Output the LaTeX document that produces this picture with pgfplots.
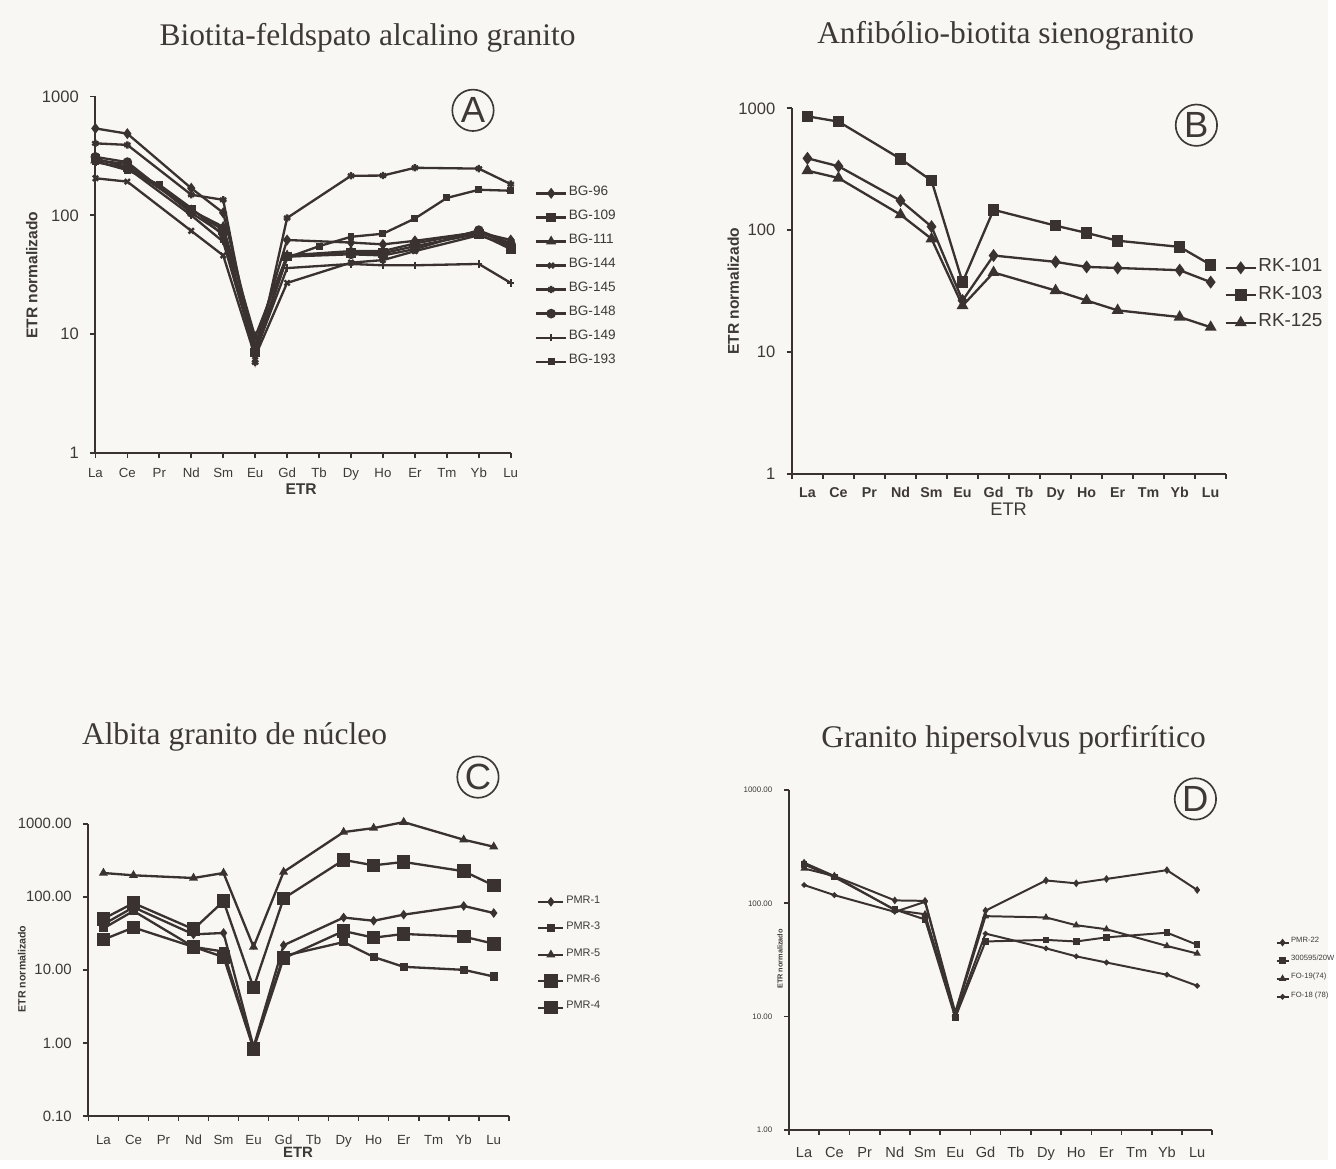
\documentclass[border=0pt]{standalone}
\usepackage{fontspec}
\setmainfont{Liberation Serif}
\setsansfont{Liberation Sans}
\usepackage{pgfplots}
\pgfplotsset{compat=1.18}

\definecolor{ink}{RGB}{58,50,48}
\definecolor{txt}{RGB}{62,57,54}
\definecolor{paper}{RGB}{248,247,244}
\newcommand{\fs}[1]{\fontsize{#1}{#1}\selectfont}

\pgfplotsset{
  ree/.style={
    scale only axis, clip=false,
    axis x line*=bottom, axis y line*=left,
    axis line style={ink, line width=0.6pt, -},
    tick align=outside, major tick length=1.5pt, minor tick length=1.5pt,
    tick style={ink, line width=0.5pt},
    xtick={0,...,13},
    xticklabels={La,Ce,Pr,Nd,Sm,Eu,Gd,Tb,Dy,Ho,Er,Tm,Yb,Lu},
    xticklabel style={text height=0.75em, text depth=0.2em, inner sep=0.3pt},
    yminorticks=false,
    every tick label/.append style={text=txt},
    every axis plot/.append style={ink, line width=0.7pt, mark options={solid, fill=ink}},
    legend cell align=left,
    legend style={draw=none, fill=none, inner sep=0pt, nodes={inner sep=0.5pt}, text=txt, anchor=north west},
  },
  cat/.style={xmin=-0.5, xmax=13.5, major x tick style={draw=none}, minor xtick={-0.5,0.5,...,13.5}},
}

\begin{document}
\begin{tikzpicture}[x=0.3pt,y=-0.3pt]
\fill[paper] (0,0) rectangle (1336,1167);

\coordinate (pA) at (96,456);
\coordinate (pB) at (797,477);
\coordinate (pC) at (89,1123);
\coordinate (pD) at (794,1137);

% titles
\node[txt, font=\fs{9.5}] at (370,38) {Biotita-feldspato alcalino granito};
\node[txt, font=\fs{9.5}] at (1012,36) {Anfibólio-biotita sienogranito};
\node[txt, font=\fs{9.5}] at (236,742) {Albita granito de núcleo};
\node[txt, font=\fs{9.5}] at (1020,744) {Granito hipersolvus porfirítico};

% panel letters
\node[draw=ink, line width=0.5pt, circle, minimum size=12.5pt, inner sep=0pt, txt, font=\sffamily\fs{11}] at (476,111) {A};
\node[draw=ink, line width=0.5pt, circle, minimum size=12.5pt, inner sep=0pt, txt, font=\sffamily\fs{11}] at (1204,126) {B};
\node[draw=ink, line width=0.5pt, circle, minimum size=12.5pt, inner sep=0pt, txt, font=\sffamily\fs{11}] at (481,782) {C};
\node[draw=ink, line width=0.5pt, circle, minimum size=12.5pt, inner sep=0pt, txt, font=\sffamily\fs{11}] at (1203,804) {D};

% axis titles
\node[rotate=90, txt, font=\sffamily\bfseries\fs{4.7}] at (32,277) {ETR normalizado};
\node[txt, font=\sffamily\bfseries\fs{4.7}] at (303,492) {ETR};
\node[rotate=90, txt, font=\sffamily\bfseries\fs{4.7}] at (738,293) {ETR normalizado};
\node[txt, font=\sffamily\fs{5.5}] at (1015,512) {ETR};
\node[rotate=90, txt, font=\sffamily\bfseries\fs{3.2}] at (22,975) {ETR normalizado};
\node[txt, font=\sffamily\bfseries\fs{4.5}] at (300,1160) {ETR};
\node[rotate=90, txt, font=\sffamily\bfseries\fs{2.2}] at (785,965) {ETR normalizado};

% A
\begin{axis}[ree, ymode=log, at={(pA)}, anchor=south west, width=125.4pt, height=107.7pt,
  xmin=0, xmax=13, ymin=1, ymax=1000,
  ytick={1,10,100,1000}, yticklabels={1,10,100,1000},
  xticklabel style={font=\sffamily\fs{4}, yshift=2.2pt},
  yticklabel style={font=\sffamily\fs{5}},
  legend style={at={(1.057,0.755)}, font=\sffamily\fs{4.1}, row sep=1.9pt},
  legend image code/.code={\draw[mark repeat=2,mark phase=2,#1] plot coordinates {(0pt,0pt) (4.5pt,0pt) (9pt,0pt)};},
  mark size=1.1pt]
\addplot[mark=diamond*] coordinates {(0,538)(1,486)(3,169)(4,105)(5,8)(6,62)(8,59)(9,57)(10,61)(12,72)(13,62)};
\addlegendentry{BG-96}
\addplot[mark=square*] coordinates {(0,300)(1,255)(3,112)(4,75)(5,7)(6,45)(8,48)(9,48)(10,55)(12,70)(13,52)};
\addlegendentry{BG-109}
\addplot[mark=triangle, mark options={fill=white}] coordinates {(0,290)(1,270)(3,110)(4,80)(5,9.5)(6,46)(8,50)(9,50)(10,58)(12,73)(13,56)};
\addlegendentry{BG-111}
\addplot[mark=x] coordinates {(0,205)(1,192)(3,74)(4,46)(5,6.5)(6,27)(8,40)(9,42)(10,50)(12,68)(13,55)};
\addlegendentry{BG-144}
\addplot[mark=asterisk] coordinates {(0,403)(1,391)(3,149)(4,135)(5,5.8)(6,95)(8,215)(9,216)(10,251)(12,247)(13,183)};
\addlegendentry{BG-145}
\addplot[mark=*] coordinates {(0,310)(1,280)(3,105)(4,70)(5,7.5)(6,45)(8,47)(9,46)(10,52)(12,75)(13,58)};
\addlegendentry{BG-148}
\addplot[mark=+] coordinates {(0,280)(1,250)(3,100)(4,60)(5,7)(6,36)(8,39)(9,38)(10,38)(12,39)(13,27)};
\addlegendentry{BG-149}
\addplot[mark=square*, mark size=0.7pt] coordinates {(0,285)(1,240)(2,181)(3,115)(4,68)(5,7.2)(6,44)(7,55)(8,66)(9,70)(10,94)(11,140)(12,164)(13,161)};
\addlegendentry{BG-193}
\end{axis}

% B
\begin{axis}[ree, cat, ymode=log, at={(pB)}, anchor=south west, width=131.1pt, height=110.4pt,
  ymin=1, ymax=1000,
  ytick={1,10,100,1000}, yticklabels={1,10,100,1000},
  xticklabel style={font=\sffamily\bfseries\fs{4.3}, yshift=2.5pt},
  yticklabel style={font=\sffamily\fs{5}},
  legend style={at={(0.995,0.595)}, font=\sffamily\fs{5.7}, row sep=1.8pt},
  legend image code/.code={\draw[mark repeat=2,mark phase=2,#1] plot coordinates {(0pt,0pt) (4.5pt,0pt) (9pt,0pt)};},
  mark size=1.4pt]
\addplot[mark=diamond*] coordinates {(0,389)(1,335)(3,175)(4,107)(5,26.5)(6,62)(8,55)(9,50)(10,49)(12,47)(13,37.5)};
\addlegendentry{RK-101}
\addplot[mark=square*] coordinates {(0,860)(1,778)(3,385)(4,255)(5,37.5)(6,147)(8,109)(9,95)(10,82)(12,73)(13,52)};
\addlegendentry{RK-103}
\addplot[mark=triangle*] coordinates {(0,308)(1,268)(3,134)(4,85)(5,24)(6,45)(8,32)(9,26.5)(10,22)(12,19.4)(13,16)};
\addlegendentry{RK-125}
\end{axis}

% C
\begin{axis}[ree, cat, ymode=log, at={(pC)}, anchor=south west, width=126.9pt, height=88.2pt,
  ymin=0.1, ymax=1000, ytick={0.1,1,10,100,1000},
  yticklabels={0.10,1.00,10.00,100.00,1000.00},
  xticklabel style={font=\sffamily\fs{4}, yshift=0.8pt},
  yticklabel style={font=\sffamily\fs{4.5}},
  legend style={at={(1.066,0.762)}, font=\sffamily\fs{3.3}, row sep=3.2pt},
  legend image code/.code={\draw[mark repeat=2,mark phase=2,#1] plot coordinates {(0pt,0pt) (3.8pt,0pt) (7.6pt,0pt)};},
  mark size=0.9pt]
\addplot[mark=diamond*] coordinates {(0,42)(1,72)(3,30.6)(4,32)(5,0.88)(6,21.7)(8,52)(9,47)(10,57)(12,75)(13,60)};
\addlegendentry{PMR-1}
\addplot[mark=square*] coordinates {(0,37)(1,64)(3,20.6)(4,17.8)(5,0.85)(6,15.5)(8,24)(9,15)(10,11)(12,10)(13,8.1)};
\addlegendentry{PMR-3}
\addplot[mark=triangle*] coordinates {(0,212)(1,197)(3,181)(4,212)(5,20.6)(6,219)(8,770)(9,873)(10,1054)(12,605)(13,485)};
\addlegendentry{PMR-5}
\addplot[mark=square*, mark size=1.7pt] coordinates {(0,50)(1,82)(3,36)(4,87)(5,5.7)(6,95)(8,320)(9,270)(10,300)(12,224)(13,143)};
\addlegendentry{PMR-6}
\addplot[mark=square*, mark size=1.7pt] coordinates {(0,26)(1,38)(3,20.6)(4,15)(5,0.83)(6,14.4)(8,34)(9,27.6)(10,31)(12,28.5)(13,22.8)};
\addlegendentry{PMR-4}
\end{axis}

% D
\begin{axis}[ree, cat, ymode=log, at={(pD)}, anchor=south west, width=127.8pt, height=102.6pt,
  ymin=1, ymax=1000,
  ytick={1,10,100,1000}, yticklabels={1.00,10.00,100.00,1000.00},
  xticklabel style={font=\sffamily\fs{4.4}, yshift=1pt},
  yticklabel style={font=\sffamily\fs{2.4}},
  legend style={at={(1.148,0.573)}, font=\sffamily\fs{2.3}, row sep=1.3pt},
  legend image code/.code={\draw[mark repeat=2,mark phase=2,#1] plot coordinates {(0pt,0pt) (1.8pt,0pt) (3.6pt,0pt)};},
  every axis plot/.append style={line width=0.6pt},
  mark size=0.7pt]
\addplot[mark=diamond*] coordinates {(0,228)(1,174)(3,106)(4,105)(5,10.9)(6,86)(8,159)(9,150)(10,164)(12,196)(13,131)};
\addlegendentry{PMR-22}
\addplot[mark=square*] coordinates {(0,220)(1,170)(3,88)(4,72)(5,9.8)(6,46)(8,47.5)(9,46)(10,50)(12,55)(13,43)};
\addlegendentry{300595/20W}
\addplot[mark=triangle*] coordinates {(0,203)(1,174)(3,87)(4,80)(5,10.5)(6,77)(8,75)(9,64)(10,59)(12,42)(13,36)};
\addlegendentry{FO-19(74)}
\addplot[mark=*, mark size=0.5pt] coordinates {(0,145)(1,118)(3,84)(4,103)(5,10.2)(6,54)(8,40)(9,34)(10,30)(12,23.4)(13,18.7)};
\addlegendentry{FO-18 (78)}
\end{axis}
\end{tikzpicture}
\end{document}
